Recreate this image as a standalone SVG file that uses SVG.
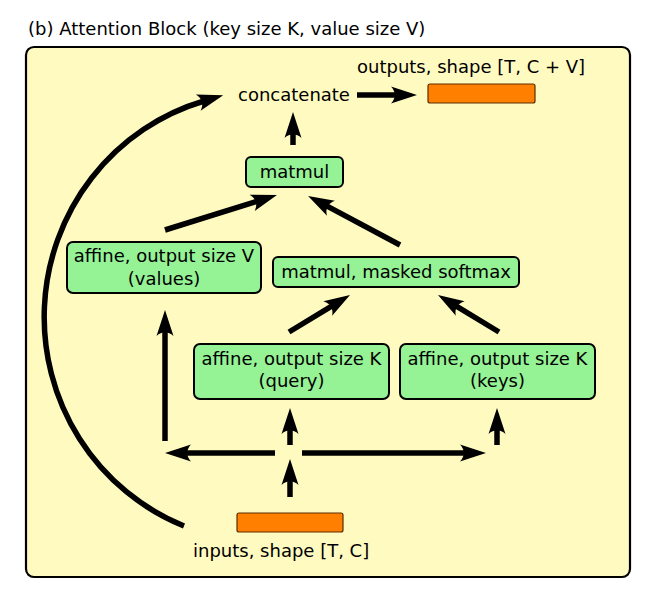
<svg xmlns="http://www.w3.org/2000/svg" width="656" height="600" viewBox="0 0 656 600">
  <style>
    text { font-family: "DejaVu Sans", "Liberation Sans", sans-serif; font-size: 18px; fill: #000; }
    .c { text-anchor: middle; }
    .box { fill: #95f295; stroke: #000; stroke-width: 2; }
    .tensor { fill: #ff8000; stroke: #5a2d00; stroke-width: 1.2; }
    .conn { fill: none; stroke: #000; stroke-width: 5.5; marker-end: url(#ah); }
  </style>
  <defs>
    <marker id="ah" markerUnits="userSpaceOnUse" markerWidth="40" markerHeight="30" refX="0" refY="0" orient="auto" overflow="visible">
      <path d="M 20,0 L -6,-8.5 C -1,-3 -1,3 -6,8.5 Z" fill="#000"/>
    </marker>
  </defs>

  <text x="28" y="35">(b) Attention Block (key size K, value size V)</text>

  <rect id="frame" x="26" y="47" width="604" height="530" rx="8" fill="#fffac0" stroke="#000" stroke-width="2.2"/>

  <g id="connectors">
    <path class="conn" d="M 184,526 A 222 225 0 0 1 204,101"/>
    <line class="conn" x1="357" y1="95" x2="397" y2="95"/>
    <line class="conn" x1="293" y1="145" x2="293" y2="132"/>
    <line class="conn" x1="165" y1="230" x2="257.9" y2="201"/>
    <line class="conn" x1="400" y1="245" x2="325.7" y2="205.4"/>
    <line class="conn" x1="289" y1="332" x2="332.9" y2="305.4"/>
    <line class="conn" x1="499" y1="332" x2="455.1" y2="305.4"/>
    <line class="conn" x1="290" y1="445" x2="290" y2="428"/>
    <line class="conn" x1="497" y1="445" x2="497" y2="428"/>
    <line class="conn" x1="275" y1="453" x2="185" y2="453"/>
    <line class="conn" x1="302" y1="453" x2="466" y2="453"/>
    <line class="conn" x1="290" y1="497" x2="290" y2="479"/>
    <line class="conn" x1="165" y1="441" x2="165" y2="330"/>
  </g>

  <g id="outputs">
    <text x="357" y="73">outputs, shape [T, C + V]</text>
    <rect class="tensor" x="428" y="84" width="107" height="19" rx="2"/>
  </g>

  <g id="concatenate">
    <text x="238" y="101">concatenate</text>
  </g>

  <g id="matmul">
    <rect class="box" x="246" y="157" width="97" height="30" rx="5"/>
    <text class="c" x="294.5" y="178">matmul</text>
  </g>

  <g id="values">
    <rect class="box" x="67" y="242" width="194" height="51" rx="6"/>
    <text class="c" x="164" y="262">affine, output size V</text>
    <text class="c" x="164" y="285">(values)</text>
  </g>

  <g id="softmax">
    <rect class="box" x="273" y="257" width="246" height="30" rx="5"/>
    <text class="c" x="396" y="278">matmul, masked softmax</text>
  </g>

  <g id="query">
    <rect class="box" x="194" y="344" width="195" height="55" rx="6"/>
    <text class="c" x="291.5" y="365">affine, output size K</text>
    <text class="c" x="291.5" y="387">(query)</text>
  </g>

  <g id="keys">
    <rect class="box" x="400" y="344" width="195" height="55" rx="6"/>
    <text class="c" x="497.5" y="365">affine, output size K</text>
    <text class="c" x="497.5" y="387">(keys)</text>
  </g>

  <g id="inputs">
    <rect class="tensor" x="237" y="513" width="106" height="19" rx="2"/>
    <text x="193" y="557">inputs, shape [T, C]</text>
  </g>
</svg>
